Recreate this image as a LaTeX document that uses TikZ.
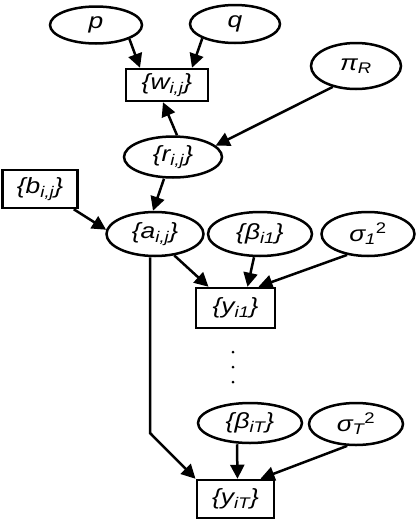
\documentclass[tikz,border=0pt]{standalone}
\usepackage{fontspec}
\setmainfont{Liberation Sans}[FakeStretch=1.2]
\usetikzlibrary{shapes.geometric}
\usetikzlibrary{arrows.meta}

\begin{document}
\begin{tikzpicture}[x=1pt,y=-1pt,line width=2.5pt,
every node/.style={font=\itshape\fontsize{22}{24}\selectfont,inner sep=0pt},
latent/.style={draw,ellipse},
observed/.style={draw,rectangle},
arr/.style={-{Triangle[length=14pt,width=14pt]}}]

\useasboundingbox (0,0) rectangle (416,520);

\node[latent,minimum width=92,minimum height=37] (p) at (96,25) {p};
\node[latent,minimum width=90,minimum height=38] (q) at (235,24) {q};
\node[observed,minimum width=82,minimum height=32] (w) at (167,85) {\{w\textsubscript{i,j}\}};
\node[latent,minimum width=90,minimum height=46] (piR) at (356,66) {π\textsubscript{R}};
\node[latent,minimum width=98,minimum height=41] (r) at (173,157) {\{r\textsubscript{i,j}\}};
\node[observed,minimum width=75,minimum height=38] (b) at (40,189) {\{b\textsubscript{i,j}\}};
\node[latent,minimum width=97,minimum height=44] (a) at (155,234) {\{a\textsubscript{i,j}\}};
\node[latent,minimum width=104,minimum height=44] (beta1) at (260,234) {\{β\textsubscript{i1}\}};
\node[latent,minimum width=93,minimum height=44] (sig1) at (368,234) {σ\textsubscript{1}\textsuperscript{\upshape 2}};
\node[observed,minimum width=79,minimum height=40] (y1) at (235.5,308) {\{y\textsubscript{i1}\}};

\fill (233,352) circle (1.5pt);
\fill (233,367) circle (1.5pt);
\fill (233,382) circle (1.5pt);

\node[latent,minimum width=104,minimum height=40] (betaT) at (250,423) {\{β\textsubscript{iT}\}};
\node[latent,minimum width=94,minimum height=42] (sigT) at (356,424) {σ\textsubscript{T}\textsuperscript{\upshape 2}};
\node[observed,minimum width=77,minimum height=38] (yT) at (235.5,499) {\{y\textsubscript{iT}\}};

\coordinate (kink) at (150,433);

\draw[arr] (p.south east) -- ([xshift=-27pt]w.north);
\draw[arr] (q.south west) -- ([xshift=25pt]w.north);
\draw[arr] ([xshift=4pt]r.north) -- ([xshift=-4pt]w.south);
\draw[arr] (piR.-138) -- (r.15);
\draw[arr] ([xshift=-9pt]r.south) -- ([xshift=-2pt]a.north);
\draw[arr] ([xshift=-5pt]b.south east) -- (a.175);
\draw[arr] (a.-48) -- ([xshift=-27pt]y1.north);
\draw[arr] ([xshift=-6pt]beta1.south) -- ([xshift=12pt]y1.north);
\draw[arr] (sig1.-135) -- ([xshift=23pt]y1.north);
\draw[arr] ([xshift=-5pt]a.south) -- (kink) -- ([xshift=-40pt]yT.north);
\draw[arr] ([xshift=-13pt]betaT.south) -- ([xshift=2pt]yT.north);
\draw[arr] (sigT.-112) -- ([xshift=25pt]yT.north);

\end{tikzpicture}
\end{document}
